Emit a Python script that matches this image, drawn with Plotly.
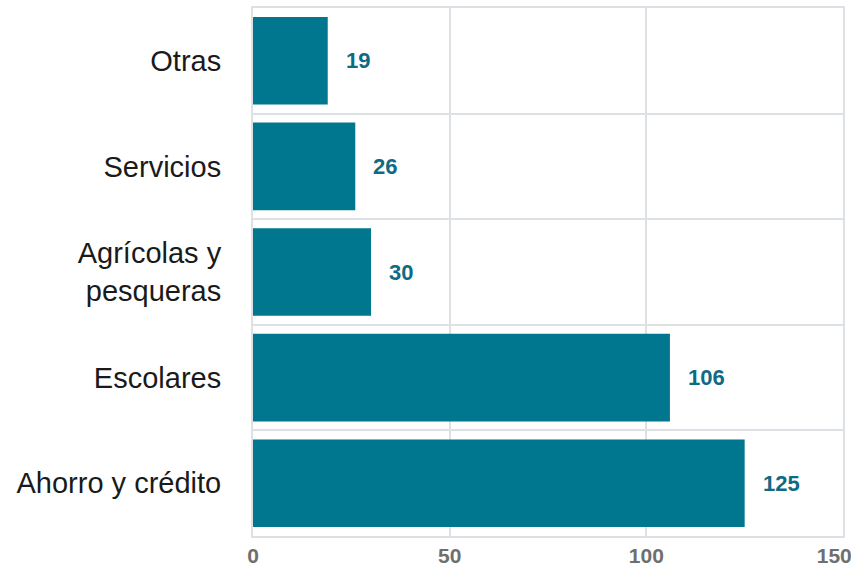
import plotly.graph_objects as go

# Cooperativas por tipo
categorias = ["Ahorro y crédito", "Escolares", "Agrícolas y<br>pesqueras", "Servicios", "Otras"]
valores = [125, 106, 30, 26, 19]
ticks_x = [0, 50, 100, 150]

BAR = "#00778f"
LABEL = "#0f6a83"
GRID = "#dde1e6"
FONT = "Liberation Sans, Arial, Helvetica, sans-serif"

fig = go.Figure(
    go.Bar(
        x=valores,
        y=categorias,
        orientation="h",
        marker=dict(color=BAR, line=dict(width=0)),
        hoverinfo="skip",
    )
)

for cat, v in zip(categorias, valores):
    fig.add_annotation(
        x=v, y=cat, text=f"<b>{v}</b>", showarrow=False,
        xanchor="left", xshift=16,
        font=dict(family=FONT, size=22, color=LABEL),
    )

# last tick label is nudged left so it stays inside the page
tick_text = [f"<b>{t}</b>" for t in ticks_x]
tick_text[-1] = tick_text[-1] + "&nbsp;&nbsp;&nbsp;"

fig.update_layout(
    width=851, height=569,
    margin=dict(l=253, r=8, t=8, b=33),
    paper_bgcolor="white", plot_bgcolor="white",
    bargap=0.17,
    showlegend=False,
    xaxis=dict(
        range=[0, 150], tickvals=ticks_x, ticktext=tick_text,
        showgrid=True, gridcolor=GRID, gridwidth=2,
        showline=True, linecolor=GRID, linewidth=2, mirror=True,
        zeroline=False, ticks="", ticklabeloverflow="allow",
        automargin=False,
        tickfont=dict(family=FONT, size=21, color="#6f6f6f"),
    ),
    yaxis=dict(
        type="category", tickson="boundaries",
        showgrid=True, gridcolor=GRID, gridwidth=2,
        showline=True, linecolor=GRID, linewidth=2, mirror=True,
        ticks="", ticklen=0, automargin=False,
        tickfont=dict(family=FONT, size=29, color="#1a1a1a"),
    ),
)
fig.update_yaxes(ticklabelstandoff=24)

fig.write_html("out.html")
